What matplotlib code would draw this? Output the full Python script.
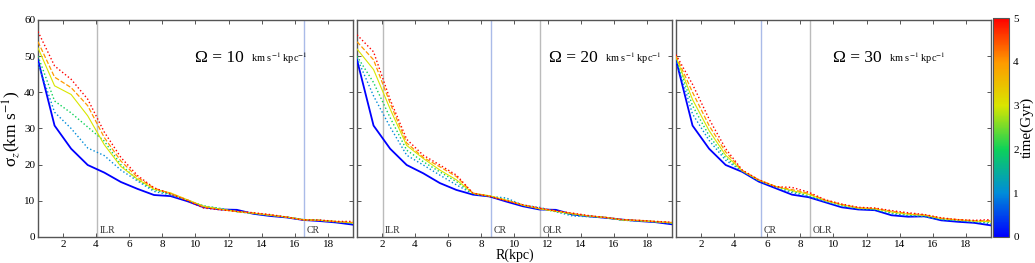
import numpy as np
import matplotlib
matplotlib.use("Agg")
import matplotlib.pyplot as plt
from matplotlib.colors import LinearSegmentedColormap, Normalize
from matplotlib.cm import ScalarMappable

plt.rcParams["font.family"] = ["Liberation Serif", "DejaVu Serif"]
plt.rcParams["mathtext.fontset"] = "stix"

# radius bins (kpc)
R = [0.5, 1.5, 2.5, 3.5, 4.5, 5.5, 6.5, 7.5, 8.5, 9.5,
     10.5, 11.5, 12.5, 13.5, 14.5, 15.5, 16.5, 17.5, 18.5, 19.5]
times = [0, 1, 2, 3, 4, 5]  # Gyr

# sigma_z (km/s), one row per time, Omega = 10
sig_10 = [
    [49, 30.8, 24.4, 19.9, 17.8, 15.2, 13.3, 11.6, 11.3, 9.9, 8.2, 7.6, 7.5, 6.4, 5.8, 5.4, 4.7, 4.4, 4.0, 3.4],
    [48, 34.5, 30.0, 24.6, 22.5, 18.5, 15.5, 12.6, 11.6, 10.1, 8.5, 7.8, 7.0, 6.5, 6.0, 5.5, 4.8, 4.6, 4.2, 3.8],
    [50, 37.6, 34.3, 30.4, 26.5, 20.0, 15.8, 13.0, 11.8, 10.2, 8.6, 7.9, 7.0, 6.5, 6.0, 5.5, 4.8, 4.6, 4.2, 3.8],
    [52.3, 41.8, 39.4, 33.5, 25.5, 19.5, 16.0, 13.2, 12.2, 10.3, 8.5, 7.7, 7.0, 6.6, 6.0, 5.5, 4.8, 4.6, 4.3, 3.9],
    [54, 44.2, 41.3, 36.3, 27.5, 21.0, 16.5, 13.5, 12.0, 10.3, 8.3, 7.6, 7.0, 6.6, 6.1, 5.5, 4.7, 4.6, 4.2, 4.0],
    [56.8, 47.3, 43.6, 38.1, 29.0, 22.0, 17.0, 13.6, 11.9, 10.0, 8.0, 7.5, 7.1, 6.7, 6.2, 5.5, 4.7, 4.7, 4.3, 4.3],
]
# Omega = 20
sig_20 = [
    [49, 30.8, 24.4, 19.9, 17.6, 14.9, 13.0, 11.7, 11.2, 9.8, 8.5, 7.6, 7.5, 6.2, 5.7, 5.3, 4.8, 4.4, 4.1, 3.5],
    [49.5, 39.0, 30.4, 22.6, 19.9, 17.1, 14.4, 11.9, 11.2, 10.8, 8.8, 8.2, 7.0, 5.8, 5.6, 5.3, 4.7, 4.4, 4.2, 3.8],
    [50, 42.7, 33.0, 24.0, 20.8, 18.0, 15.3, 11.9, 11.3, 10.3, 8.8, 7.8, 7.0, 6.2, 5.7, 5.4, 4.6, 4.5, 4.2, 3.8],
    [52, 46.3, 35.4, 25.3, 21.7, 18.5, 15.8, 12.1, 11.4, 10.2, 8.8, 7.8, 7.1, 6.4, 5.8, 5.4, 4.7, 4.5, 4.2, 3.9],
    [54, 49.0, 37.0, 26.0, 22.0, 19.4, 16.7, 12.1, 11.3, 10.1, 8.9, 7.9, 7.2, 6.5, 5.8, 5.4, 4.8, 4.6, 4.3, 4.0],
    [55.9, 51.2, 38.0, 27.0, 22.6, 19.9, 17.1, 12.1, 11.2, 10.0, 8.9, 8.0, 7.2, 6.6, 5.9, 5.4, 4.8, 4.6, 4.3, 4.1],
]
# Omega = 30
sig_30 = [
    [49, 30.8, 24.4, 19.9, 18.0, 15.3, 13.5, 11.7, 11.0, 9.6, 8.2, 7.6, 7.4, 6.0, 5.6, 5.7, 4.6, 4.2, 3.9, 3.2],
    [49.2, 34.0, 26.7, 21.2, 18.2, 15.5, 13.8, 12.3, 11.2, 9.8, 8.5, 7.8, 7.5, 6.4, 5.9, 5.6, 4.8, 4.5, 4.1, 3.7],
    [49.5, 36.3, 28.0, 21.9, 18.2, 15.6, 13.9, 12.6, 11.5, 10.0, 8.7, 7.9, 7.7, 6.7, 6.1, 5.8, 4.9, 4.6, 4.3, 4.0],
    [49.8, 38.0, 29.4, 22.6, 18.3, 15.7, 14.0, 12.8, 11.8, 10.1, 8.9, 8.0, 7.8, 6.9, 6.3, 6.0, 5.1, 4.7, 4.4, 4.2],
    [50.1, 40.0, 30.8, 23.5, 18.4, 15.8, 14.0, 13.1, 12.1, 10.2, 9.0, 8.1, 7.9, 7.1, 6.5, 6.1, 5.2, 4.8, 4.5, 4.5],
    [50.4, 42.2, 32.6, 24.4, 18.5, 15.8, 13.9, 13.7, 12.4, 10.3, 9.1, 8.2, 8.0, 7.3, 6.7, 6.2, 5.3, 4.8, 4.6, 4.8],
]

omegas = [10, 20, 30]
panels = [sig_10, sig_20, sig_30]
# resonance positions (kpc) per panel
resonances = [
    [("ILR", 4.05), ("CR", 16.55)],
    [("ILR", 2.05), ("CR", 8.57), ("OLR", 11.55)],
    [("CR", 5.65), ("OLR", 8.57)],
]
title_x = [10.0, 12.1, 10.0]

cmap = LinearSegmentedColormap.from_list("gyr", [
    (0.0, (0.0, 0.0, 1.0)),
    (0.2, (0.0, 0.55, 0.85)),
    (0.4, (0.05, 0.82, 0.35)),
    (0.6, (0.85, 0.9, 0.0)),
    (0.8, (1.0, 0.6, 0.0)),
    (1.0, (1.0, 0.0, 0.0)),
])
norm = Normalize(0, 5)
styles = [("-", 1.3), (":", 1.0), (":", 1.0), ("-", 0.8), ("--", 0.9), (":", 1.0)]

fig = plt.figure(figsize=(10.35, 2.63), dpi=100)
frame = "#555555"
lefts = [0.0367, 0.3449, 0.6531]
bottom, height = 0.099, 0.825
axes = []
for i, (sig, om) in enumerate(zip(panels, omegas)):
    ax = fig.add_axes([lefts[i], bottom, 0.3043, height])
    axes.append(ax)
    for name, xr in resonances[i]:
        col = "#aabbe8" if name == "CR" else "#bbbbbb"
        ax.axvline(xr, color=col, lw=1.0, zorder=1)
        ax.text(xr + 0.15, 0.6, name, fontsize=7, color="#333333", va="bottom", ha="left")
    for t, curve, (ls, lw) in zip(times, sig, styles):
        ax.plot(R, curve, ls=ls, lw=lw, color=cmap(norm(t)), zorder=3)
    ax.set_xlim(0.5, 19.5)
    ax.set_ylim(0, 60)
    ax.set_xticks(range(2, 20, 2))
    ax.set_yticks(range(0, 61, 10))
    ax.tick_params(direction="in", top=True, right=True, length=3, width=0.7,
                   labelsize=8, color=frame, pad=2)
    if i > 0:
        ax.tick_params(labelleft=False)
    for s in ax.spines.values():
        s.set_color(frame)
        s.set_linewidth(1.0)
    tx = ax.text(title_x[i], 49.5, "Ω = %d" % om, fontsize=12.5, va="center", ha="left")
    ax.annotate(r"km s$^{-1}$ kpc$^{-1}$", xy=(1, 0.5), xycoords=tx,
                xytext=(5, 0), textcoords="offset points",
                fontsize=7.5, va="center", ha="left")

axes[0].set_ylabel(r"σ$_z$(km s$^{-1}$)", fontsize=12.5, labelpad=1)
axes[1].set_xlabel("R(kpc)", fontsize=10, labelpad=0)

cax = fig.add_axes([0.9594, bottom, 0.0155, height + 0.007])
cb = fig.colorbar(ScalarMappable(norm=norm, cmap=cmap), cax=cax)
cb.set_ticks(times)
cb.ax.tick_params(labelsize=8, length=0, pad=3)
cb.outline.set_edgecolor(frame)
cb.set_label("time(Gyr)", fontsize=11, labelpad=1)

fig.savefig("out.png", dpi=100)
